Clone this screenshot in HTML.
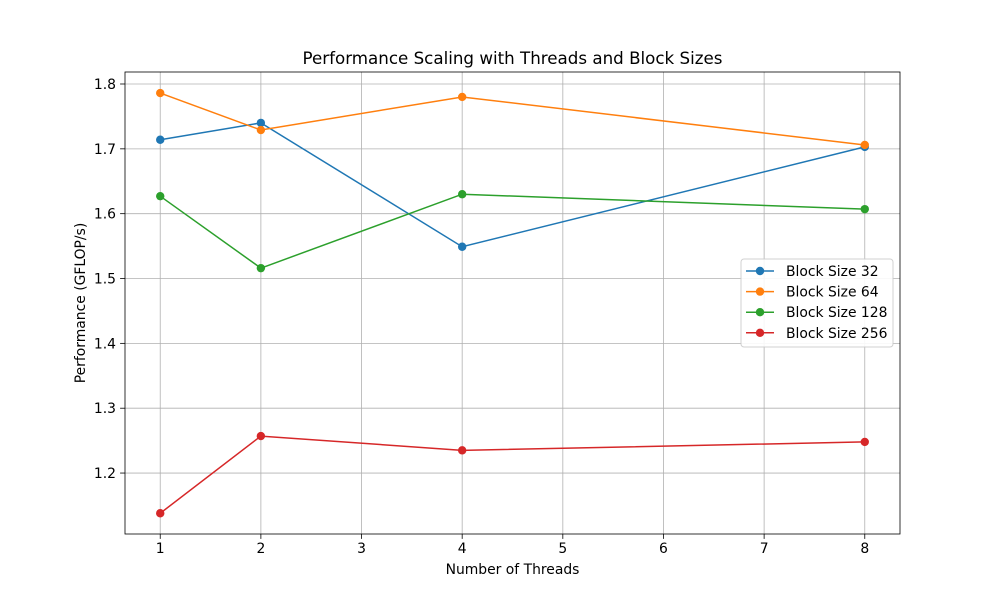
<!DOCTYPE html>
<html><head><meta charset="utf-8"><style>body{margin:0;background:#fff}svg{font-family:"DejaVu Sans","Liberation Sans",sans-serif}</style></head>
<body>
<svg id="chart" width="1000" height="600">
<rect width="1000" height="600" fill="#fff"/>
</svg>
<script>
const threads=[1,2,4,8];
const s32=[1.714,1.740,1.549,1.703];
const s64=[1.786,1.729,1.780,1.706];
const s128=[1.627,1.516,1.630,1.607];
const s256=[1.138,1.257,1.235,1.248];
const seriesNames=["Block Size 32","Block Size 64","Block Size 128","Block Size 256"];
const colors=["#1f77b4","#ff7f0e","#2ca02c","#d62728"];
const xTicks=[1,2,3,4,5,6,7,8];
const yTicks=[1.2,1.3,1.4,1.5,1.6,1.7,1.8];
const L=125,R=900,T=72,B=534;
const xMin=0.65,xMax=8.35,yMin=1.106,yMax=1.8185;
const X=v=>L+(v-xMin)/(xMax-xMin)*(R-L);
const Y=v=>B-(v-yMin)/(yMax-yMin)*(B-T);
const svg=document.getElementById('chart');const NS="http://www.w3.org/2000/svg";
function mk(t,a,p){const e=document.createElementNS(NS,t);for(const k in a)e.setAttribute(k,a[k]);(p||svg).appendChild(e);return e;}
xTicks.forEach(t=>{const x=X(t);
const g=mk('line',{x1:x,x2:x,y1:T,y2:B,stroke:'#b0b0b0','stroke-width':0.8});


mk('line',{x1:x,x2:x,y1:B,y2:B+4.9,stroke:'#000','stroke-width':0.8});
const tx=mk('text',{x:x,y:B+19,'text-anchor':'middle','font-size':13.9});tx.textContent=t;

});
yTicks.forEach(t=>{const y=Y(t);
const g=mk('line',{x1:L,x2:R,y1:y,y2:y,stroke:'#b0b0b0','stroke-width':0.8});


mk('line',{x1:L-4.9,x2:L,y1:y,y2:y,stroke:'#000','stroke-width':0.8});
const tx=mk('text',{x:L-9,y:y+5,'text-anchor':'end','font-size':13.9});tx.textContent=t.toFixed(1);

});
[s32,s64,s128,s256].forEach((s,i)=>{
const p=mk('polyline',{points:s.map((v,j)=>X(threads[j])+','+Y(v)).join(' '),fill:'none',stroke:colors[i],'stroke-width':1.5});


s.forEach((v,j)=>{const c=mk('circle',{cx:X(threads[j]),cy:Y(v),r:4.2,fill:colors[i]});

});});
const fr=mk('rect',{x:L,y:T,width:R-L,height:B-T,fill:'none',stroke:'#000','stroke-width':0.8});


const tt=mk('text',{x:(L+R)/2,y:64,'text-anchor':'middle','font-size':16.7});tt.textContent='Performance Scaling with Threads and Block Sizes';


const xl=mk('text',{x:(L+R)/2,y:574,'text-anchor':'middle','font-size':13.9});xl.textContent='Number of Threads';


const yl=mk('text',{x:0,y:0,'text-anchor':'middle','font-size':13.9,transform:'translate(85,303) rotate(-90)'});yl.textContent='Performance (GFLOP/s)';


const lg=mk('rect',{x:741,y:259,width:152,height:88,rx:3,fill:'#fff',stroke:'#ccc','stroke-width':1,opacity:0.9});


seriesNames.forEach((n,i)=>{const y=271+i*20.6;
mk('line',{x1:746,x2:774,y1:y,y2:y,stroke:colors[i],'stroke-width':1.5});
mk('circle',{cx:760,cy:y,r:4.2,fill:colors[i]});
const t=mk('text',{x:786,y:y+5,'font-size':13.9});t.textContent=n;

});
</script>
</body></html>
